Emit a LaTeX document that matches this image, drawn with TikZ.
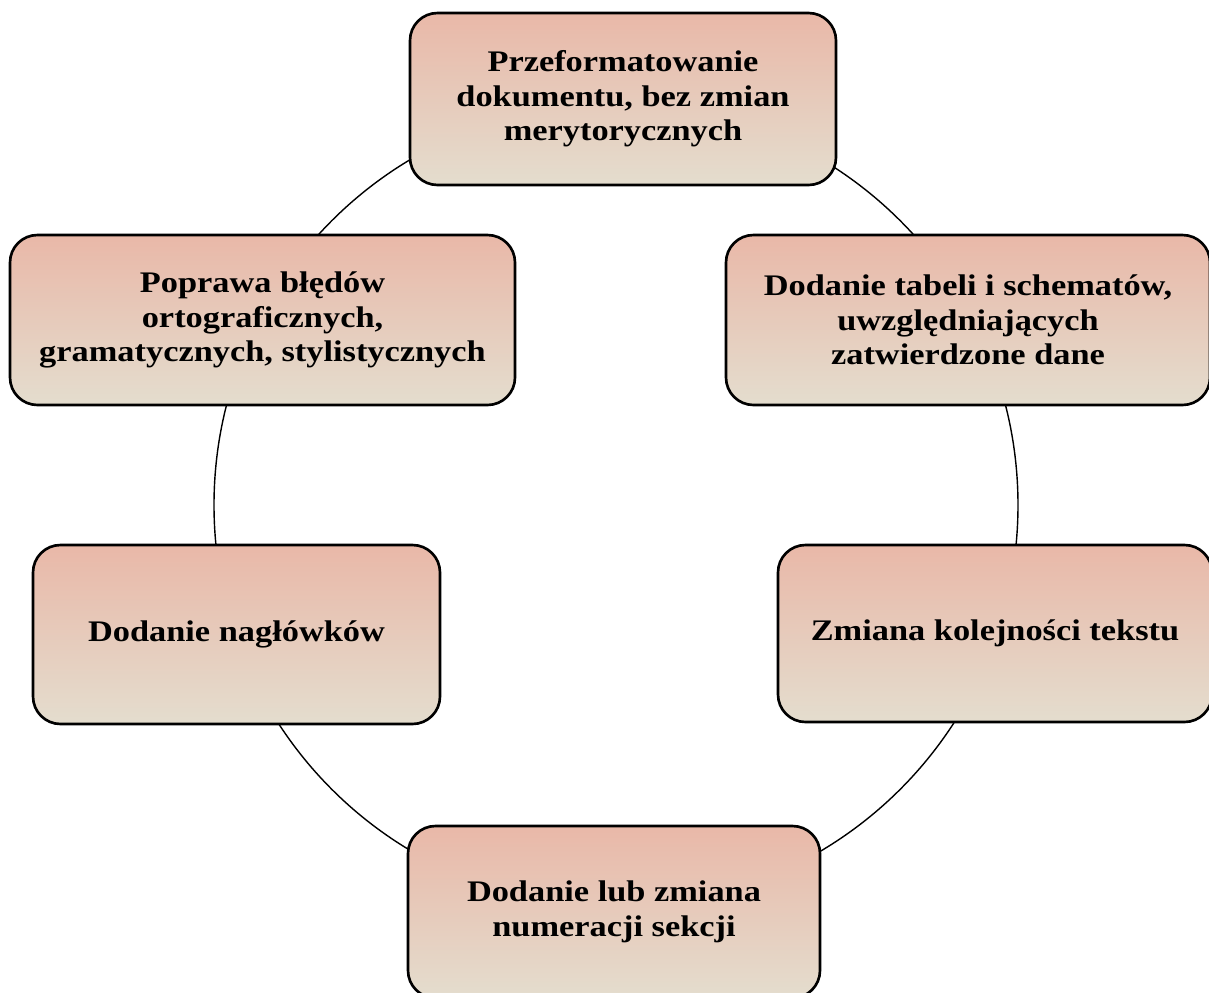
\documentclass[tikz,border=0pt]{standalone}
\usepackage{fontspec}
\setmainfont{Liberation Serif}
\newfontfamily\etapfont[FakeStretch=1.15]{Liberation Serif}
\usetikzlibrary{shapes,calc}
\definecolor{rozGora}{RGB}{233,184,168}
\definecolor{rozSrodek}{RGB}{220,200,182}
\definecolor{bezDol}{RGB}{228,221,206}
\tikzset{
    etapbox/.style={
        rectangle,                % prostokąt
        rounded corners=5.5mm,    % wyraźnie zaokrąglone rogi
        draw=black,               % czarna ramka
        line width=1.5pt,         % gruba ramka
        top color=rozGora,        % różowa góra
        middle color=rozSrodek,   % przejście
        bottom color=bezDol,      % beżowy dół
        align=center,             % tekst wyśrodkowany
        font=\etapfont\fontsize{17}{19.6}\selectfont\bfseries,
        inner sep=6pt
    },
    kolo/.style={
        draw=black,
        line width=0.8pt          % cienka linia cyklu
    }
}
\begin{document}
\begin{tikzpicture}
    \useasboundingbox (0,0) rectangle (24.18,-19.86);
    % okrąg cyklu pod etapami
    \coordinate (srodek) at (12.32,-10.1);
    \draw[kolo] (srodek) circle (8.04);

    \node[etapbox, minimum width=8.52cm, minimum height=3.44cm] (format) at (12.46,-1.98)
        {Przeformatowanie\\dokumentu, bez zmian\\merytorycznych};
    \node[etapbox, minimum width=9.68cm, minimum height=3.4cm] (tabele) at (19.36,-6.4)
        {Dodanie tabeli i schematów,\\uwzględniających\\zatwierdzone dane};
    \node[etapbox, minimum width=8.68cm, minimum height=3.54cm] (kolejnosc) at (19.9,-12.67)
        {Zmiana kolejności tekstu};
    \node[etapbox, minimum width=8.24cm, minimum height=3.44cm] (numeracja) at (12.28,-18.24)
        {Dodanie lub zmiana\\numeracji sekcji};
    \node[etapbox, minimum width=8.14cm, minimum height=3.58cm] (naglowki) at (4.73,-12.69)
        {Dodanie nagłówków};
    \node[etapbox, minimum width=10.1cm, minimum height=3.4cm] (bledy) at (5.25,-6.4)
        {Poprawa błędów\\ortograficznych,\\gramatycznych, stylistycznych};
\end{tikzpicture}
\end{document}
